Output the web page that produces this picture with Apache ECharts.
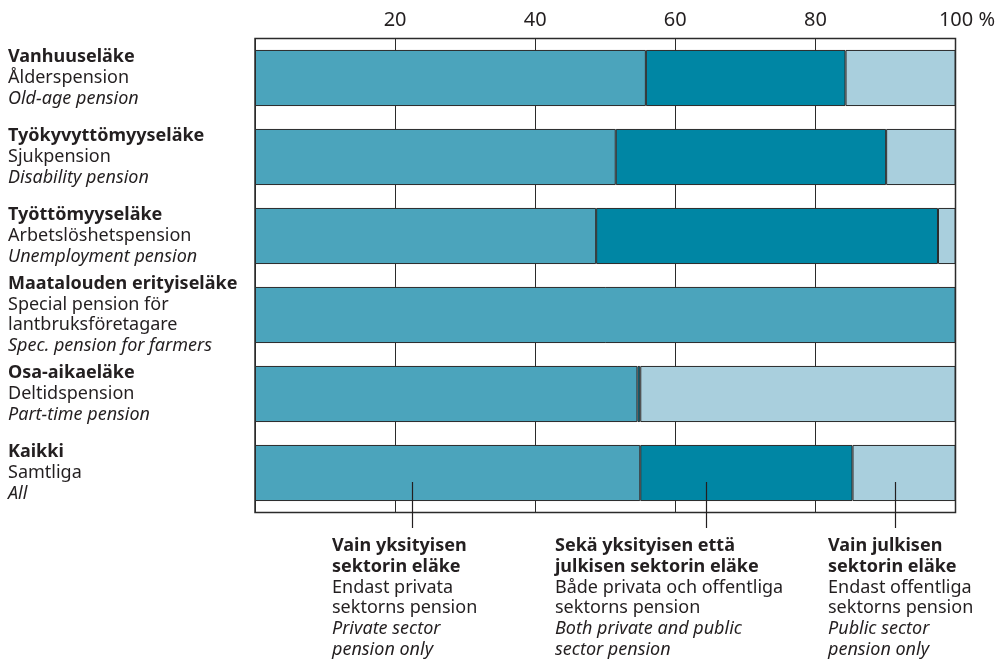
<!DOCTYPE html>
<html>
<head>
<meta charset="utf-8">
<script src="https://cdn.jsdelivr.net/npm/echarts@6/dist/echarts.min.js"></script>
<style>
html,body{margin:0;padding:0;background:#fff;}
#c{width:1008px;height:661px;}
</style>
</head>
<body>
<div id="c"></div>
<script>
// ---- data ----
var catFi = ['Vanhuuseläke', 'Työkyvyttömyyseläke', 'Työttömyyseläke', 'Maatalouden erityiseläke', 'Osa-aikaeläke', 'Kaikki'];
var catSv = [['Ålderspension'], ['Sjukpension'], ['Arbetslöshetspension'], ['Special pension för', 'lantbruksföretagare'], ['Deltidspension'], ['Samtliga']];
var catEn = ['Old-age pension', 'Disability pension', 'Unemployment pension', 'Spec. pension for farmers', 'Part-time pension', 'All'];
var privateOnly = [55.8, 51.5, 48.7, 100, 54.6, 55.0];
var both = [28.5, 38.6, 48.8, 0, 0.4, 30.3];
var publicOnly = [15.7, 9.9, 2.5, 0, 45.0, 14.7];
var tickValues = [20, 40, 60, 80, 100];
var annotX = [22.4, 64.4, 91.3];
var annotFi = [['Vain yksityisen', 'sektorin eläke'], ['Sekä yksityisen että', 'julkisen sektorin eläke'], ['Vain julkisen', 'sektorin eläke']];
var annotSv = [['Endast privata', 'sektorns pension'], ['Både privata och offentliga', 'sektorns pension'], ['Endast offentliga', 'sektorns pension']];
var annotEn = [['Private sector', 'pension only'], ['Both private and public', 'sector pension'], ['Public sector', 'pension only']];
var seriesNames = ['Vain yksityisen sektorin eläke', 'Sekä yksityisen että julkisen sektorin eläke', 'Vain julkisen sektorin eläke'];
var colors = ['#4ba4bc', '#0086a4', '#a9cfdd'];

var FONT = '"Noto Sans", "Open Sans", sans-serif';
var FS = 18;
var FS_TICK = 20;
var LH = 20.7;
var TXT = '#231f20';

var categories = catFi.map(function (f, i) {
  return i;
});

function catLabel(i) {
  var parts = ['{b|' + catFi[i] + '}'];
  catSv[i].forEach(function (s) { parts.push('{n|' + s + '}'); });
  parts.push('{i|' + catEn[i] + '}');
  return parts.join('\n');
}

var chart = echarts.init(document.getElementById('c'), null, {renderer: 'canvas'});

var barCommon = {
  type: 'bar',
  stack: 'total',
  barCategoryGap: '29%',
  silent: true
};

var option = {
  animation: false,
  textStyle: {fontFamily: FONT},
  grid: {
    left: 255, right: 52.5, top: 38.5, bottom: 148.5,
    show: true, borderColor: '#2b2b2b', borderWidth: 1.5, backgroundColor: 'transparent'
  },
  xAxis: {
    type: 'value',
    position: 'top',
    min: 0, max: 100, interval: 20,
    axisLine: {show: false},
    axisTick: {show: false},
    splitLine: {show: true, lineStyle: {color: '#2b2b2b', width: 1}},
    axisLabel: {
      margin: 8,
      fontFamily: FONT, fontSize: FS_TICK, color: TXT,
      formatter: function (v) {
        if (tickValues.indexOf(v) < 0) return '';
        if (v === 100) return '{pad|}100 %';
        return String(v);
      },
      rich: {pad: {width: 23, fontSize: FS_TICK}}
    }
  },
  yAxis: {
    type: 'category',
    inverse: true,
    data: categories,
    axisLine: {show: false},
    axisTick: {show: false},
    splitLine: {show: false},
    axisLabel: {
      align: 'left',
      margin: 247,
      formatter: function (v) { return catLabel(+v); },
      rich: {
        b: {fontFamily: FONT, fontSize: FS, fontWeight: 'bold', color: TXT, lineHeight: LH},
        n: {fontFamily: FONT, fontSize: FS, color: TXT, lineHeight: LH},
        i: {fontFamily: FONT, fontSize: FS, fontStyle: 'italic', color: TXT, lineHeight: LH}
      }
    }
  },
  series: [
    Object.assign({}, barCommon, {name: seriesNames[0], data: privateOnly, itemStyle: {color: colors[0], borderColor: '#2b2b2b', borderWidth: 1}}),
    Object.assign({}, barCommon, {name: seriesNames[1], data: both, itemStyle: {color: colors[1], borderColor: '#2b2b2b', borderWidth: 1}}),
    Object.assign({}, barCommon, {name: seriesNames[2], data: publicOnly, itemStyle: {color: colors[2], borderColor: '#2b2b2b', borderWidth: 1}})
  ]
};
chart.setOption(option);

// annotations: leader lines and texts below the chart
var graphics = [];
var lastRow = catFi.length - 1;
var textLeft = [332, 555, 828];
annotX.forEach(function (xv, k) {
  var p = chart.convertToPixel({gridIndex: 0}, [xv, lastRow]);
  var x = Math.round(p[0]) + 0.5;
  graphics.push({
    type: 'line', silent: true, z: 100,
    shape: {x1: x, y1: p[1] + 9, x2: x, y2: 528},
    style: {stroke: '#231f20', lineWidth: 1.2}
  });
  var lines = [];
  annotFi[k].forEach(function (s) { lines.push('{b|' + s + '}'); });
  annotSv[k].forEach(function (s) { lines.push('{n|' + s + '}'); });
  annotEn[k].forEach(function (s) { lines.push('{i|' + s + '}'); });
  graphics.push({
    type: 'text', silent: true, z: 100,
    left: textLeft[k], top: 537,
    style: {
      text: lines.join('\n'),
      fontFamily: FONT, fontSize: FS, fill: TXT,
      rich: {
        b: {fontFamily: FONT, fontSize: FS, fontWeight: 'bold', fill: TXT, lineHeight: LH},
        n: {fontFamily: FONT, fontSize: FS, fill: TXT, lineHeight: LH},
        i: {fontFamily: FONT, fontSize: FS, fontStyle: 'italic', fill: TXT, lineHeight: LH}
      }
    }
  });
});
chart.setOption({graphic: graphics});
</script>
</body>
</html>
